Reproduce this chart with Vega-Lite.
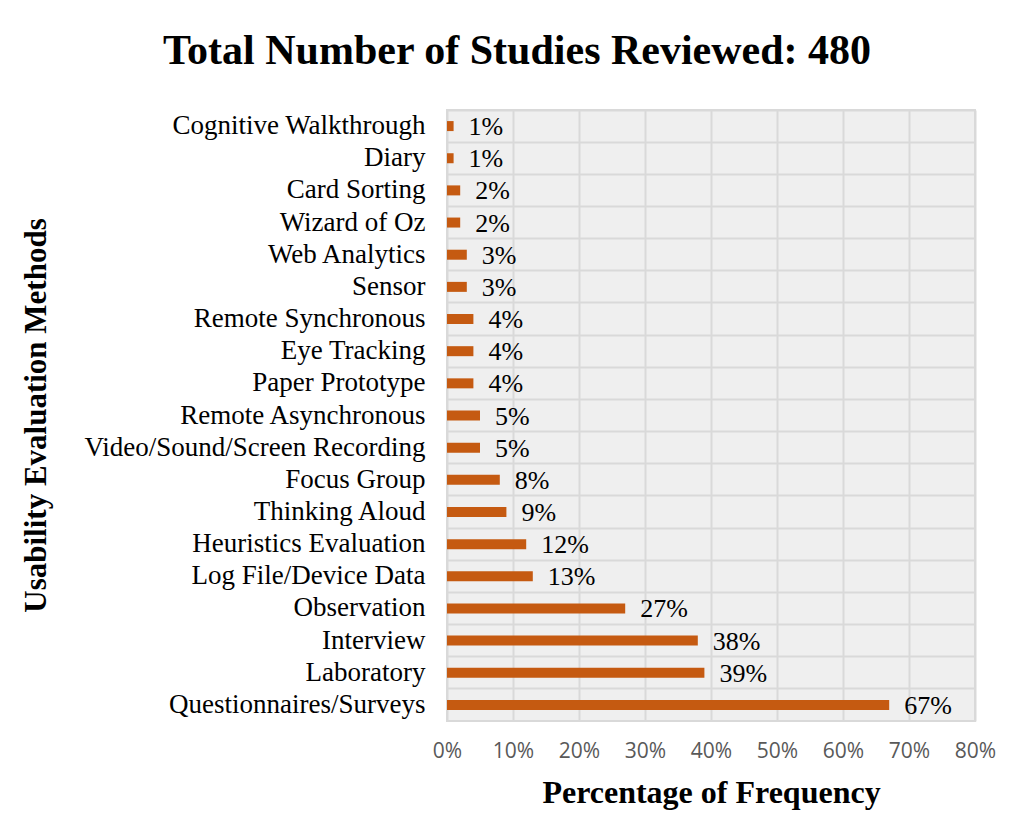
{
  "$schema": "https://vega.github.io/schema/vega-lite/v6.json",
  "autosize": {"type": "none"},
  "width": 528,
  "height": 611,
  "padding": {"left": 447, "top": 110, "right": 42, "bottom": 118},
  "background": "white",
  "config": {
    "view": {"fill": "#efefef", "stroke": "#d9d9d9", "strokeWidth": 2},
    "font": "Liberation Serif"
  },
  "title": {
    "text": "Total Number of Studies Reviewed: 480",
    "font": "Liberation Serif",
    "fontSize": 42,
    "fontWeight": "bold",
    "color": "black",
    "anchor": "middle",
    "dx": -194,
    "offset": 37
  },
  "data": {
    "values": [
      {"method": "Cognitive Walkthrough", "pct": 0.01},
      {"method": "Diary", "pct": 0.01},
      {"method": "Card Sorting", "pct": 0.02},
      {"method": "Wizard of Oz", "pct": 0.02},
      {"method": "Web Analytics", "pct": 0.03},
      {"method": "Sensor", "pct": 0.03},
      {"method": "Remote Synchronous", "pct": 0.04},
      {"method": "Eye Tracking", "pct": 0.04},
      {"method": "Paper Prototype", "pct": 0.04},
      {"method": "Remote Asynchronous", "pct": 0.05},
      {"method": "Video/Sound/Screen Recording", "pct": 0.05},
      {"method": "Focus Group", "pct": 0.08},
      {"method": "Thinking Aloud", "pct": 0.09},
      {"method": "Heuristics Evaluation", "pct": 0.12},
      {"method": "Log File/Device Data", "pct": 0.13},
      {"method": "Observation", "pct": 0.27},
      {"method": "Interview", "pct": 0.38},
      {"method": "Laboratory", "pct": 0.39},
      {"method": "Questionnaires/Surveys", "pct": 0.67}
    ]
  },
  "encoding": {
    "y": {
      "field": "method",
      "type": "nominal",
      "sort": null,
      "scale": {"paddingInner": 0, "paddingOuter": 0},
      "axis": {
        "title": "Usability Evaluation Methods",
        "titleFont": "Liberation Serif",
        "titleFontSize": 31,
        "titleFontWeight": "bold",
        "titleColor": "black",
        "titleX": -411,
        "titleY": 305,
        "titleAngle": -90,
        "titleBaseline": "middle",
        "labelFont": "Liberation Serif",
        "labelFontSize": 27,
        "labelColor": "black",
        "labelPadding": 22,
        "ticks": false,
        "domain": false,
        "grid": true,
        "gridColor": "#d9d9d9",
        "gridWidth": 2,
        "bandPosition": 0,
        "labelLimit": 500
      }
    },
    "x": {
      "field": "pct",
      "type": "quantitative",
      "scale": {"domain": [0, 0.8], "nice": false},
      "axis": {
        "title": "Percentage of Frequency",
        "titleFont": "Liberation Serif",
        "titleFontSize": 32,
        "titleFontWeight": "bold",
        "titleColor": "black",
        "titlePadding": 16,
        "format": ".0%",
        "values": [0, 0.1, 0.2, 0.3, 0.4, 0.5, 0.6, 0.7, 0.8],
        "labelFont": "Open Sans",
        "labelFontSize": 21,
        "labelColor": "#595959",
        "labelPadding": 19,
        "labelFlush": false,
        "labelOverlap": false,
        "ticks": false,
        "domain": false,
        "grid": true,
        "gridColor": "#d9d9d9",
        "gridWidth": 2
      }
    }
  },
  "layer": [
    {"mark": {"type": "bar", "color": "#C55A11", "size": 10}},
    {
      "mark": {"type": "text", "align": "left", "baseline": "middle", "dx": 15, "dy": 1, "fontSize": 26, "font": "Liberation Serif", "color": "black"},
      "encoding": {"text": {"field": "pct", "type": "quantitative", "format": ".0%"}}
    }
  ]
}
